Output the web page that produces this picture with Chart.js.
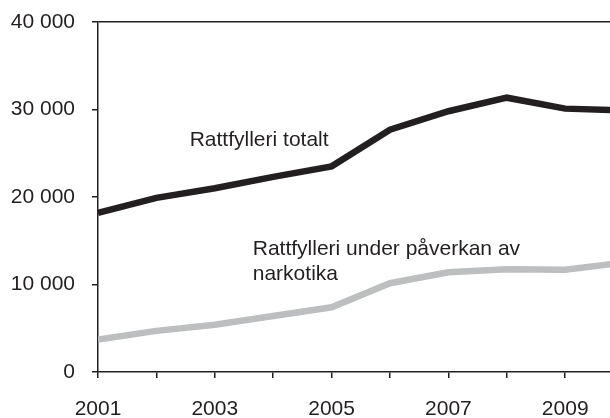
<!DOCTYPE html>
<html>
<head>
<meta charset="utf-8">
<script src="https://cdn.jsdelivr.net/npm/chart.js@4"></script>
<style>
  html, body { margin: 0; padding: 0; background: #fff; overflow: hidden; }
  #wrap { width: 610px; height: 418px; }
</style>
</head>
<body>
<div id="wrap"><canvas id="myChart"></canvas></div>
<script>
// data
const years = [2001, 2002, 2003, 2004, 2005, 2006, 2007, 2008, 2009, 2010];
const totalt = [18200, 19900, 21000, 22300, 23500, 27700, 29800, 31350, 30100, 29900];
const narkotika = [3700, 4700, 5400, 6400, 7400, 10150, 11400, 11750, 11700, 12500];
const yTicks = [0, 10000, 20000, 30000, 40000];

const ink = "#231f20";
const grey = "#bcbec0";
const font = "'Liberation Sans', Arial, sans-serif";

// text labels next to the lines, placed in data units
const notes = [
  { text: "Rattfylleri totalt", x: 2002.57, y: 26500 },
  { text: "Rattfylleri under påverkan av", x: 2003.65, y: 14050 },
  { text: "narkotika", x: 2003.65, y: 11200 }
];

function fmt(v) {
  return String(v).replace(/\B(?=(\d{3})+(?!\d))/g, " ");
}

function points(vals) {
  var out = [];
  for (var i = 0; i < years.length; i++) {
    out.push({ x: years[i], y: vals[i] });
  }
  return out;
}

const notesPlugin = {
  id: "notes",
  afterDatasetsDraw(chart) {
    var ctx = chart.ctx;
    var xs = chart.scales.x, ys = chart.scales.y;
    ctx.save();
    ctx.fillStyle = ink;
    ctx.font = "21px " + font;
    ctx.textAlign = "left";
    ctx.textBaseline = "middle";
    notes.forEach(function (n) {
      ctx.fillText(n.text, xs.getPixelForValue(n.x), ys.getPixelForValue(n.y));
    });
    ctx.restore();
  }
};

new Chart("myChart", {
  type: "line",
  data: {
    datasets: [{
      data: points(totalt),
      borderColor: ink,
      borderWidth: 6.5,
      pointRadius: 0,
      tension: 0
    }, {
      data: points(narkotika),
      borderColor: grey,
      borderWidth: 6.5,
      pointRadius: 0,
      tension: 0
    }]
  },
  options: {
    responsive: true,
    maintainAspectRatio: false,
    animation: false,
    layout: { padding: { top: 22, left: 0, right: 0, bottom: 0 } },
    plugins: { legend: { display: false }, tooltip: { enabled: false } },
    scales: {
      x: {
        type: "linear",
        min: 2001,
        max: 2009.767,
        afterFit: function (s) {
          s.height = 46;
          s.paddingLeft = 0;
          s.paddingRight = 0;
        },
        border: { color: ink, width: 1.5 },
        grid: { drawOnChartArea: false, tickLength: 6, tickColor: ink, lineWidth: 1.5 },
        ticks: {
          stepSize: 1,
          includeBounds: false,
          autoSkip: false,
          maxRotation: 0,
          padding: 19,
          color: ink,
          font: { family: font, size: 21 },
          callback: function (v) { return (v - 2001) % 2 === 0 ? String(v) : ""; }
        }
      },
      y: {
        min: 0,
        max: 40000,
        afterFit: function (s) {
          s.width = 98;
          s.paddingTop = 0;
          s.paddingBottom = 0;
        },
        afterBuildTicks: function (s) { s.ticks = yTicks.map(function (v) { return { value: v }; }); },
        border: { color: ink, width: 1.5 },
        grid: {
          color: function (c) { return c.tick && c.tick.value === 40000 ? ink : "rgba(0,0,0,0)"; },
          lineWidth: 1.5,
          tickLength: 6,
          tickColor: ink
        },
        ticks: {
          padding: 17,
          color: ink,
          font: { family: font, size: 21 },
          callback: function (v) { return fmt(v); }
        }
      }
    }
  },
  plugins: [notesPlugin]
});
</script>
</body>
</html>
